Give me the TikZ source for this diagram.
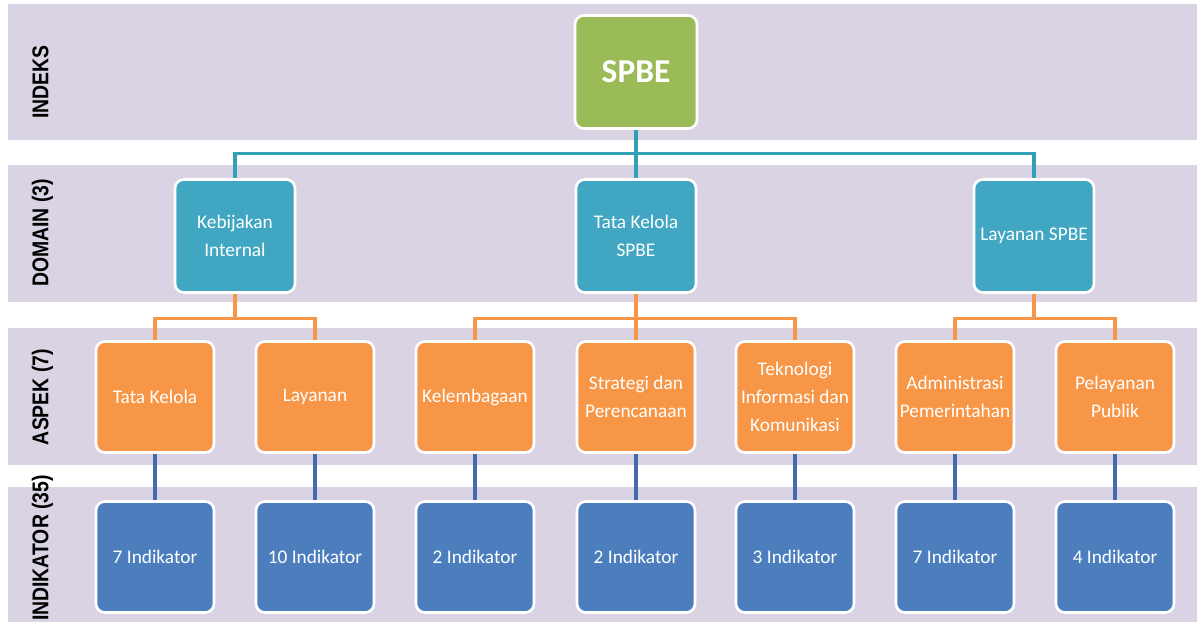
\documentclass[tikz,border=0pt]{standalone}
\usepackage{fontspec}
\usepackage{tikz}
\usepackage{xcolor}
\usetikzlibrary{positioning, calc, backgrounds}
\setmainfont{Carlito}
\newfontfamily\rowfont{Liberation Sans}
\definecolor{cBand}{RGB}{217,211,227}
\definecolor{cGreen}{RGB}{155,187,89}
\definecolor{cTeal}{RGB}{64,166,193}
\definecolor{cTealLine}{RGB}{49,160,181}
\definecolor{cOrange}{RGB}{247,150,70}
\definecolor{cBlue}{RGB}{76,126,190}
\definecolor{cBlueLine}{RGB}{70,105,172}
\tikzset{
	box/.style={rectangle, rounded corners=5pt, draw=white, line width=1.5pt, align=center, text=white, inner sep=1pt, font=\fontsize{11}{16}\selectfont},
	indeksbox/.style={box, fill=cGreen, minimum width=2.44cm, minimum height=2.26cm, font=\fontsize{19}{22}\selectfont\bfseries},
	domainbox/.style={box, fill=cTeal, minimum width=2.4cm, minimum height=2.26cm},
	aspekbox/.style ={box, fill=cOrange, minimum width=2.36cm, minimum height=2.22cm},
	indikbox/.style ={box, fill=cBlue, minimum width=2.36cm, minimum height=2.22cm},
	rowlabel/.style={rotate=90, xscale=0.85, font=\rowfont\fontsize{13}{15}\selectfont\bfseries, text height=0.72em, text depth=0pt, inner sep=0pt},
	band/.style={fill=cBand},
	tealwire/.style={draw=cTealLine, line width=1.8pt},
	orangewire/.style={draw=cOrange, line width=1.8pt},
	bluewire/.style={draw=cBlueLine, line width=1.8pt},
}
\begin{document}
\begin{tikzpicture}[x=0.02cm, y=-0.02cm]
	\useasboundingbox (0,0) rectangle (1197,622);
	% row labels
	\node[rowlabel] (lblI) at (42,82) {INDEKS};
	\node[rowlabel] (lblD) at (42,233) {DOMAIN (3)};
	\node[rowlabel] (lblA) at (42,397) {ASPEK (7)};
	\node[rowlabel] (lblK) at (42,548) {INDIKATOR (35)};
	% index
	\node[indeksbox] (spbe) at (636,72) {SPBE};
	% domains
	\node[domainbox] (dom1) at (235,236) {Kebijakan\\Internal};
	\node[domainbox] (dom2) at (636,236) {Tata Kelola\\SPBE};
	\node[domainbox] (dom3) at (1034,236) {Layanan SPBE};
	% aspects and indicators
	\foreach \i/\x/\asp/\ind in {1/155/Tata Kelola/7, 2/315/Layanan/10, 3/475/Kelembagaan/2,
			4/636/Strategi dan\\Perencanaan/2, 5/795/Teknologi\\Informasi dan\\Komunikasi/3,
			6/955/Administrasi\\Pemerintahan/7, 7/1115/Pelayanan\\Publik/4}{
		\node[aspekbox] (asp\i) at (\x,397) {\asp};
		\node[indikbox] (ind\i) at (\x,557) {\ind\ Indikator};
	}
	\begin{scope}[on background layer]
		\fill[band] (8,4) rectangle (1197,140);
		\fill[band] (8,165) rectangle (1197,302);
		\fill[band] (8,328) rectangle (1197,465);
		\fill[band] (8,487) rectangle (1197,622);
		\foreach \d in {dom1,dom2,dom3}
			\draw[tealwire] (spbe.south) -- ++(0,24) -| (\d.north);
		\foreach \a in {asp1,asp2}
			\draw[orangewire] (dom1.south) -- ++(0,25) -| (\a.north);
		\foreach \a in {asp3,asp4,asp5}
			\draw[orangewire] (dom2.south) -- ++(0,25) -| (\a.north);
		\foreach \a in {asp6,asp7}
			\draw[orangewire] (dom3.south) -- ++(0,25) -| (\a.north);
		\foreach \i in {1,...,7}
			\draw[bluewire] (asp\i.south) -- (ind\i.north);
	\end{scope}
\end{tikzpicture}
\end{document}
